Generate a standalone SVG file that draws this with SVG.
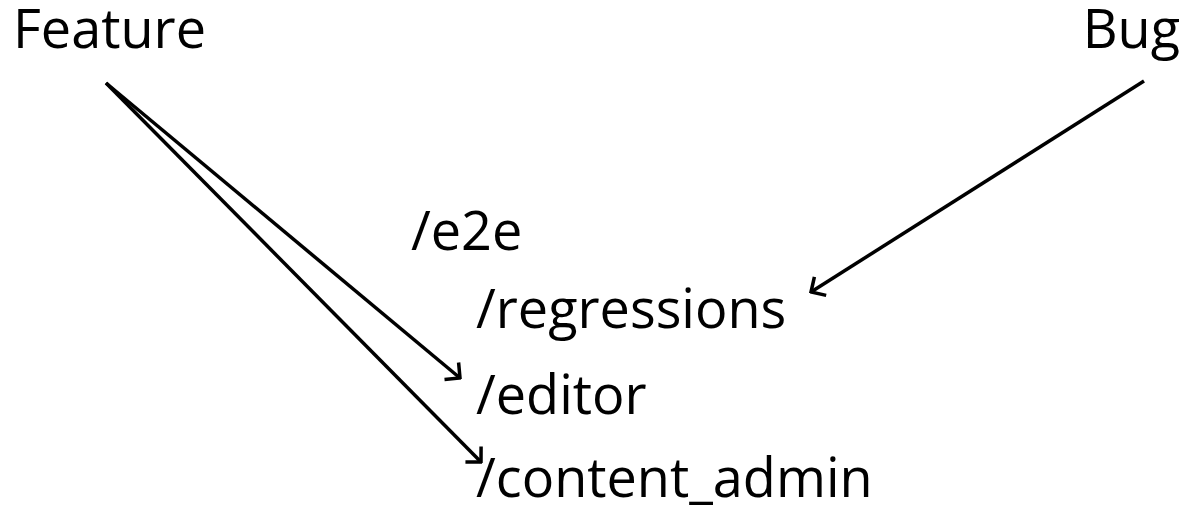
<svg xmlns="http://www.w3.org/2000/svg" width="1194" height="508" viewBox="0 0 1194 508">
<style>
  text { font-family: "Open Sans", "Noto Sans", sans-serif; font-size: 54px; fill: #000; }
  .edge { stroke: #000; stroke-width: 3.5; fill: none; marker-end: url(#arrow); }
</style>
<defs>
  <marker id="arrow" markerUnits="userSpaceOnUse" viewBox="-14 -14 16 28" refX="0" refY="0" markerWidth="16" markerHeight="28" orient="auto">
    <path d="M-11,-11 L0,0 L-11,11" fill="none" stroke="#000" stroke-width="3.5"/>
  </marker>
</defs>
<rect width="1194" height="508" fill="#fff"/>
<g id="node-feature"><text x="13" y="48">Feature</text></g>
<g id="node-bug"><text x="1180" y="48" text-anchor="end">Bug</text></g>
<g id="node-e2e"><text x="411" y="250">/e2e</text></g>
<g id="node-regressions"><text x="476" y="328">/regressions</text></g>
<g id="node-editor"><text x="476" y="414">/editor</text></g>
<g id="node-content-admin"><text x="476" y="497">/content_admin</text></g>
<g id="connectors">
  <line class="edge" x1="106" y1="83" x2="460" y2="378"/>
  <line class="edge" x1="106" y1="83" x2="481" y2="462"/>
  <line class="edge" x1="1144" y1="81" x2="811" y2="292"/>
</g>
</svg>
